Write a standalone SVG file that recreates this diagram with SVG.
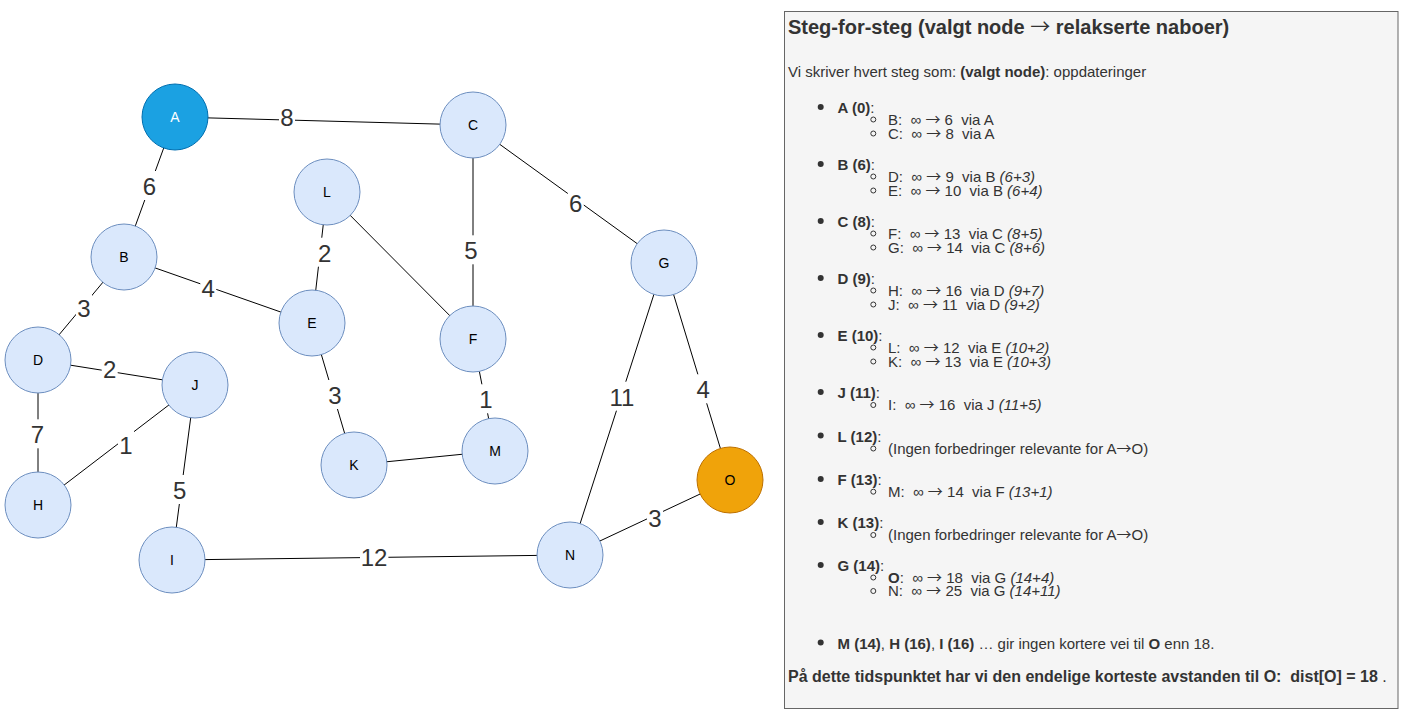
<svg xmlns="http://www.w3.org/2000/svg" width="1408" height="724" viewBox="0 0 1408 724">
<style>
.edge{stroke:#000;stroke-width:1;fill:none}
.nd{fill:#dae8fc;stroke:#6c8ebf;stroke-width:1}
.nt{font-family:"Liberation Sans",Arial,sans-serif;font-size:14px;fill:#000;text-anchor:middle;dominant-baseline:central}
.el{font-family:"Liberation Sans",Arial,sans-serif;font-size:24px;fill:#333;text-anchor:middle}
.bg{fill:#fff}
.pt{font-family:"Liberation Sans",Arial,sans-serif;font-size:15px;fill:#333}
.b{font-weight:bold}
.i{font-style:italic}
.ar{font-family:"Noto Sans CJK JP","Liberation Sans",sans-serif;font-weight:normal}
.dot{fill:#333}
.sub{fill:none;stroke:#333;stroke-width:1}
</style>
<rect width="1408" height="724" fill="#fff"/>
<g id="connectors">
<line class="edge" x1="175" y1="117" x2="473" y2="125"/>
<line class="edge" x1="175" y1="117" x2="124" y2="257"/>
<line class="edge" x1="124" y1="257" x2="312" y2="323"/>
<line class="edge" x1="124" y1="257" x2="38" y2="360"/>
<line class="edge" x1="38" y1="360" x2="195" y2="385"/>
<line class="edge" x1="38" y1="360" x2="38" y2="505"/>
<line class="edge" x1="195" y1="385" x2="38" y2="505"/>
<line class="edge" x1="195" y1="385" x2="172" y2="560"/>
<line class="edge" x1="172" y1="560" x2="570" y2="555"/>
<line class="edge" x1="327" y1="192" x2="312" y2="323"/>
<line class="edge" x1="327" y1="192" x2="473" y2="339"/>
<line class="edge" x1="473" y1="125" x2="473" y2="339"/>
<line class="edge" x1="473" y1="125" x2="664" y2="263"/>
<line class="edge" x1="312" y1="323" x2="354" y2="465"/>
<line class="edge" x1="473" y1="339" x2="495" y2="451"/>
<line class="edge" x1="354" y1="465" x2="495" y2="451"/>
<line class="edge" x1="664" y1="263" x2="570" y2="555"/>
<line class="edge" x1="664" y1="263" x2="730" y2="480"/>
<line class="edge" x1="570" y1="555" x2="730" y2="480"/>
<g id="edge-labels">
<rect class="bg" x="279" y="101" width="16" height="29"/><text class="el" x="287" y="125.5">8</text>
<rect class="bg" x="141.5" y="171" width="16" height="29"/><text class="el" x="149.5" y="195.3">6</text>
<rect class="bg" x="200.3" y="272.7" width="16" height="29"/><text class="el" x="208.3" y="296.7">4</text>
<rect class="bg" x="76" y="293" width="16" height="29"/><text class="el" x="84" y="317">3</text>
<rect class="bg" x="101.7" y="354.3" width="16" height="29"/><text class="el" x="109.7" y="378.3">2</text>
<rect class="bg" x="29.5" y="419.3" width="16" height="29"/><text class="el" x="37.5" y="443.3">7</text>
<rect class="bg" x="118" y="430" width="16" height="29"/><text class="el" x="126" y="454">1</text>
<rect class="bg" x="171.7" y="475" width="16" height="29"/><text class="el" x="179.7" y="499">5</text>
<rect class="bg" x="360" y="542" width="28.4" height="29"/><text class="el" x="374" y="566">12</text>
<rect class="bg" x="316.7" y="237.7" width="16" height="29"/><text class="el" x="324.7" y="261.7">2</text>
<rect class="bg" x="463" y="235.3" width="16" height="29"/><text class="el" x="471" y="259.3">5</text>
<rect class="bg" x="567.8" y="187.7" width="16" height="29"/><text class="el" x="575.8" y="211.7">6</text>
<rect class="bg" x="327" y="380" width="16" height="29"/><text class="el" x="335" y="404">3</text>
<rect class="bg" x="478" y="384.3" width="16" height="29"/><text class="el" x="486" y="408.3">1</text>
<rect class="bg" x="608" y="381.7" width="28.4" height="29"/><text class="el" x="622" y="405.7">11</text>
<rect class="bg" x="695.3" y="374.3" width="16" height="29"/><text class="el" x="703.3" y="398.3">4</text>
<rect class="bg" x="647" y="502.7" width="16" height="29"/><text class="el" x="655" y="526.7">3</text>
</g>
</g>
<g id="node-A"><circle cx="175" cy="117" r="33" fill="#1ba1e2" stroke="#006eaf"/><text class="nt" x="175" y="117" style="fill:#fff">A</text></g>
<g id="node-B"><circle class="nd" cx="124" cy="257" r="33"/><text class="nt" x="124" y="257">B</text></g>
<g id="node-C"><circle class="nd" cx="473" cy="125" r="33"/><text class="nt" x="473" y="125">C</text></g>
<g id="node-D"><circle class="nd" cx="38" cy="360" r="33"/><text class="nt" x="38" y="360">D</text></g>
<g id="node-E"><circle class="nd" cx="312" cy="323" r="33"/><text class="nt" x="312" y="323">E</text></g>
<g id="node-F"><circle class="nd" cx="473" cy="339" r="33"/><text class="nt" x="473" y="339">F</text></g>
<g id="node-G"><circle class="nd" cx="664" cy="263" r="33"/><text class="nt" x="664" y="263">G</text></g>
<g id="node-H"><circle class="nd" cx="38" cy="505" r="33"/><text class="nt" x="38" y="505">H</text></g>
<g id="node-I"><circle class="nd" cx="172" cy="560" r="33"/><text class="nt" x="172" y="560">I</text></g>
<g id="node-J"><circle class="nd" cx="195" cy="385" r="33"/><text class="nt" x="195" y="385">J</text></g>
<g id="node-K"><circle class="nd" cx="354" cy="465" r="33"/><text class="nt" x="354" y="465">K</text></g>
<g id="node-L"><circle class="nd" cx="327" cy="192" r="33"/><text class="nt" x="327" y="192">L</text></g>
<g id="node-M"><circle class="nd" cx="495" cy="451" r="33"/><text class="nt" x="495" y="451">M</text></g>
<g id="node-N"><circle class="nd" cx="570" cy="555" r="33"/><text class="nt" x="570" y="555">N</text></g>
<g id="node-O"><circle cx="730" cy="480" r="33" fill="#f0a30a" stroke="#bd7000"/><text class="nt" x="730" y="480">O</text></g>
<g id="panel">
<rect x="784.5" y="11.5" width="613.5" height="697" fill="#f5f5f5" stroke="#666"/>
<text class="pt b" x="788" y="34" style="font-size:20px">Steg-for-steg (valgt node <tspan class="ar">→</tspan> relakserte naboer)</text>
<text class="pt" x="788" y="77">Vi skriver hvert steg som: <tspan class="b">(valgt node)</tspan>: oppdateringer</text>

<circle class="dot" cx="820.7" cy="107" r="3"/><text class="pt" x="837.5" y="113"><tspan class="b">A (0)</tspan>:</text>
<circle class="sub" cx="873.3" cy="119.5" r="2.5"/><text class="pt" x="888" y="124.5">B:&#160; ∞ <tspan class="ar">→</tspan> 6&#160; via A</text>
<circle class="sub" cx="873.3" cy="133.5" r="2.5"/><text class="pt" x="888" y="138.5">C:&#160; ∞ <tspan class="ar">→</tspan> 8&#160; via A</text>

<circle class="dot" cx="820.7" cy="164" r="3"/><text class="pt" x="837.5" y="170"><tspan class="b">B (6)</tspan>:</text>
<circle class="sub" cx="873.3" cy="176.5" r="2.5"/><text class="pt" x="888" y="181.5">D:&#160; ∞ <tspan class="ar">→</tspan> 9&#160; via B <tspan class="i">(6+3)</tspan></text>
<circle class="sub" cx="873.3" cy="190.5" r="2.5"/><text class="pt" x="888" y="195.5">E:&#160; ∞ <tspan class="ar">→</tspan> 10&#160; via B <tspan class="i">(6+4)</tspan></text>

<circle class="dot" cx="820.7" cy="221" r="3"/><text class="pt" x="837.5" y="227"><tspan class="b">C (8)</tspan>:</text>
<circle class="sub" cx="873.3" cy="233.5" r="2.5"/><text class="pt" x="888" y="238.5">F:&#160; ∞ <tspan class="ar">→</tspan> 13&#160; via C <tspan class="i">(8+5)</tspan></text>
<circle class="sub" cx="873.3" cy="247.5" r="2.5"/><text class="pt" x="888" y="252.5">G:&#160; ∞ <tspan class="ar">→</tspan> 14&#160; via C <tspan class="i">(8+6)</tspan></text>

<circle class="dot" cx="820.7" cy="278" r="3"/><text class="pt" x="837.5" y="284"><tspan class="b">D (9)</tspan>:</text>
<circle class="sub" cx="873.3" cy="290.5" r="2.5"/><text class="pt" x="888" y="295.5">H:&#160; ∞ <tspan class="ar">→</tspan> 16&#160; via D <tspan class="i">(9+7)</tspan></text>
<circle class="sub" cx="873.3" cy="304.5" r="2.5"/><text class="pt" x="888" y="309.5">J:&#160; ∞ <tspan class="ar">→</tspan> 11&#160; via D <tspan class="i">(9+2)</tspan></text>

<circle class="dot" cx="820.7" cy="335" r="3"/><text class="pt" x="837.5" y="341"><tspan class="b">E (10)</tspan>:</text>
<circle class="sub" cx="873.3" cy="347.5" r="2.5"/><text class="pt" x="888" y="352.5">L:&#160; ∞ <tspan class="ar">→</tspan> 12&#160; via E <tspan class="i">(10+2)</tspan></text>
<circle class="sub" cx="873.3" cy="361.5" r="2.5"/><text class="pt" x="888" y="366.5">K:&#160; ∞ <tspan class="ar">→</tspan> 13&#160; via E <tspan class="i">(10+3)</tspan></text>

<circle class="dot" cx="820.7" cy="392" r="3"/><text class="pt" x="837.5" y="398"><tspan class="b">J (11)</tspan>:</text>
<circle class="sub" cx="873.3" cy="405" r="2.5"/><text class="pt" x="888" y="410">I:&#160; ∞ <tspan class="ar">→</tspan> 16&#160; via J <tspan class="i">(11+5)</tspan></text>

<circle class="dot" cx="820.7" cy="435.5" r="3"/><text class="pt" x="837.5" y="441.5"><tspan class="b">L (12)</tspan>:</text>
<circle class="sub" cx="873.3" cy="448.5" r="2.5"/><text class="pt" x="888" y="453.5">(Ingen forbedringer relevante for A<tspan class="ar">→</tspan>O)</text>

<circle class="dot" cx="820.7" cy="479" r="3"/><text class="pt" x="837.5" y="485"><tspan class="b">F (13)</tspan>:</text>
<circle class="sub" cx="873.3" cy="491.7" r="2.5"/><text class="pt" x="888" y="496.7">M:&#160; ∞ <tspan class="ar">→</tspan> 14&#160; via F <tspan class="i">(13+1)</tspan></text>

<circle class="dot" cx="820.7" cy="522" r="3"/><text class="pt" x="837.5" y="528"><tspan class="b">K (13)</tspan>:</text>
<circle class="sub" cx="873.3" cy="535" r="2.5"/><text class="pt" x="888" y="540">(Ingen forbedringer relevante for A<tspan class="ar">→</tspan>O)</text>

<circle class="dot" cx="820.7" cy="565" r="3"/><text class="pt" x="837.5" y="571"><tspan class="b">G (14)</tspan>:</text>
<circle class="sub" cx="873.3" cy="577.5" r="2.5"/><text class="pt" x="888" y="582.5"><tspan class="b">O</tspan>:&#160; ∞ <tspan class="ar">→</tspan> 18&#160; via G <tspan class="i">(14+4)</tspan></text>
<circle class="sub" cx="873.3" cy="591" r="2.5"/><text class="pt" x="888" y="596">N:&#160; ∞ <tspan class="ar">→</tspan> 25&#160; via G <tspan class="i">(14+11)</tspan></text>

<circle class="dot" cx="820.7" cy="642.5" r="3"/><text class="pt" x="837.5" y="649"><tspan class="b">M (14)</tspan>, <tspan class="b">H (16)</tspan>, <tspan class="b">I (16)</tspan> … gir ingen kortere vei til <tspan class="b">O</tspan> enn 18.</text>
<text class="pt" x="788" y="682" style="font-size:16px"><tspan class="b">På dette tidspunktet har vi den endelige korteste avstanden til O:&#160; dist[O] = 18</tspan> .</text>
</g>
</svg>
